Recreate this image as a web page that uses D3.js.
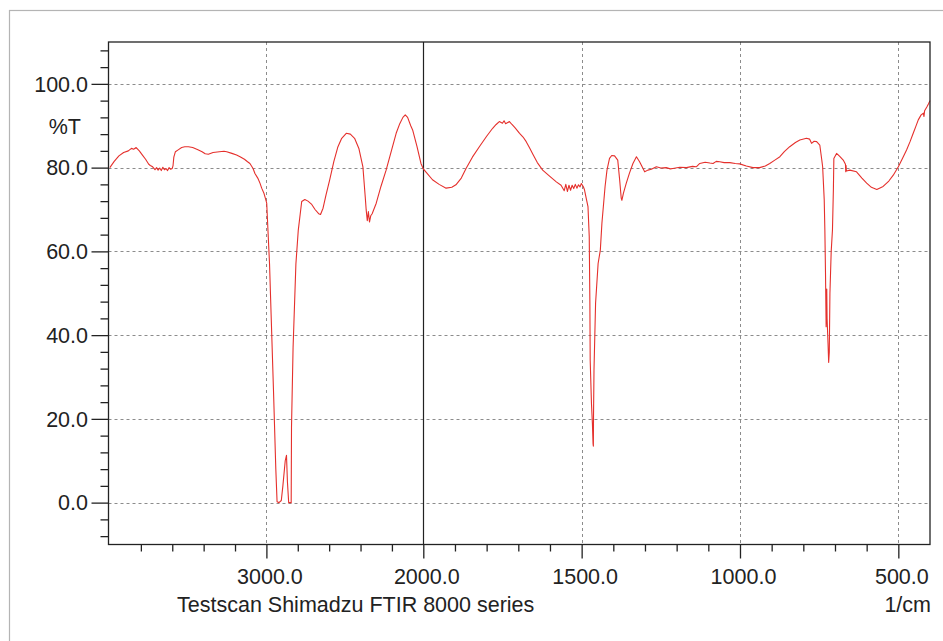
<!DOCTYPE html>
<html>
<head>
<meta charset="utf-8">
<script src="https://cdn.jsdelivr.net/npm/d3@7"></script>
<style>
  html, body { margin: 0; padding: 0; background: #fff; }
  svg { display: block; }
  text { font-family: "Liberation Sans", Arial, sans-serif; fill: #222; }
</style>
</head>
<body>
<svg id="chart" width="943" height="641"></svg>
<script>
// ---- Data ----
const wavenumbers = [
  3998,3970,3940,3910,3880,3860,3846,3830,3810,3790,3770,3750,3740,3725,3710,3700,3690,3680,3670,3660,
  3650,3640,3630,3620,3610,3600,3595,3590,3580,3560,3540,3520,3497,3470,3440,3410,3390,3370,3340,3300,
  3270,3253,3220,3190,3168,3140,3120,3105,3085,3073,3055,3041,3030,3015,3005,2998,2990,2980,2970,2955,
  2940,2932,2920,2905,2895,2880,2872,2866,2858,2842,2840,2830,2812,2797,2775,2755,2735,2713,2690,2667,
  2655,2639,2620,2597,2570,2544,2520,2491,2465,2438,2410,2385,2370,2364,2357,2350,2343,2335,2326,2300,
  2270,2237,2200,2173,2150,2130,2115,2100,2080,2068,2040,2015,2000,
  1990,1971,1950,1928,1910,1897,1880,1865,1845,1823,1800,1781,1770,1760,1750,1745,1740,1728,1720,1710,
  1696,1685,1675,1665,1654,1640,1623,1605,1580,1565,1555,1550,1545,1540,1535,1530,1525,1520,1515,1510,
  1505,1501,1495,1491,1485,1480,1476,1474,1473,1469,1466,1464,1463,1462.5,1461,1456,1448,1441,1436,1426,
  1420,1412,1405,1396,1386,1380,1375,1373,1368,1359,1349,1338,1327,1317,1301,1291,1280,1264,1250,1233,
  1220,1212,1190,1169,1150,1138,1127,1110,1095,1085,1075,1064,1050,1032,1015,1001,980,959,938,920,
  906,890,874,860,843,825,811,790,780,774,766,758,748,742,739,734,732,730,728,727,
  726,725,722,720,718,716,712,708,705,703.6,695,685,674,667,666,665,664,653,632,615,
  600,585,568,548,530,516,500,487,474,463,453,445,437,428,421,419,417,410,405,400
];
const transmittance = [
  80.0,81.5,82.8,83.6,84.0,84.6,84.4,84.8,84.0,83.0,82.0,80.8,80.5,80.2,79.5,80.0,79.4,79.9,79.3,80.1,
  79.5,79.8,79.3,80.0,79.6,79.8,80.5,82.5,83.8,84.3,84.8,85.0,85.0,84.8,84.3,83.8,83.3,83.2,83.6,83.8,
  83.9,83.8,83.4,83.0,82.6,82.0,81.4,81.0,79.8,78.6,77.5,76.3,75.1,73.8,72.5,71.5,65.0,57.0,45.0,27.0,
  8.0,0.2,0.0,0.5,4.0,10.0,11.3,5.0,0.0,0.0,18.0,37.0,57.0,65.0,71.9,72.4,72.0,71.3,70.0,69.0,
  68.8,70.3,73.5,77.0,81.5,85.0,87.0,88.2,88.0,87.0,84.5,80.2,73.0,69.9,67.3,69.5,67.0,68.5,69.0,71.5,
  75.5,79.4,84.5,88.2,90.5,92.0,92.6,92.0,90.0,89.0,85.0,81.0,79.7,
  78.8,77.1,76.0,75.1,75.3,75.9,77.5,79.8,82.5,85.0,87.5,89.4,90.3,91.0,90.6,91.2,90.5,91.0,90.3,89.5,
  88.2,87.3,86.2,84.8,83.2,81.2,79.4,78.2,76.6,75.8,74.5,76.0,74.3,75.8,74.6,75.8,75.0,76.0,75.1,75.9,
  75.4,76.2,75.5,74.7,72.5,70.7,63.5,47.6,34.0,23.7,18.9,14.1,13.5,20.5,31.6,47.6,57.1,60.3,66.7,75.5,
  79.4,82.2,82.9,82.8,81.8,77.1,72.7,72.2,73.9,76.3,78.7,81.0,82.6,81.4,79.0,79.4,79.6,80.2,79.9,80.0,
  79.7,79.8,80.1,80.0,80.3,80.2,81.0,81.3,81.1,81.0,81.5,81.4,81.2,81.2,81.0,80.9,80.4,80.0,80.0,80.4,
  81.0,81.8,82.6,83.8,85.0,86.0,86.6,87.0,86.8,85.8,86.3,86.2,85.4,82.0,80.2,72.3,65.1,55.0,42.0,48.0,
  51.0,44.0,38.0,33.5,36.0,50.0,60.0,65.1,75.0,82.2,83.4,82.7,81.8,80.8,79.0,80.5,79.2,79.4,79.0,77.5,
  76.3,75.3,74.8,75.5,76.8,78.2,80.2,82.2,84.2,86.2,88.2,89.8,91.4,92.6,93.0,92.2,93.6,94.5,95.2,96.0
];
const yTickLabels = [0, 20, 40, 60, 80, 100];
const xTickLabels = [3000, 2000, 1500, 1000, 500];
const yMinorTicks = [-8,-4,4,8,12,16,24,28,32,36,44,48,52,56,64,68,72,76,84,88,92,96,104,108];
const xMinorTicks = [3800,3600,3400,3200,2800,2600,2400,2200,1900,1800,1700,1600,1400,1300,1200,1100,900,800,700,600];
const yAxisTitle = "%T";
const xAxisUnit = "1/cm";
const caption = "Testscan Shimadzu FTIR 8000 series";

// ---- Layout ----
const svg = d3.select("#chart");
const L = 108.5, R = 930, T = 42, B = 544.5;
const FS = 21.5;

// Piecewise x scale: 4000-2000 compressed, 2000-400 expanded
const x = d3.scaleLinear().domain([4000, 2000, 400]).range([109.5, 423.3, 930]);
const y = d3.scaleLinear().domain([-10, 110]).range([B, T]);

// Outer frame
svg.append("rect")
  .attr("x", 9.5).attr("y", 10.5).attr("width", 945).attr("height", 650)
  .attr("fill", "none").attr("stroke", "#b4b4b4").attr("stroke-width", 1.2);

// Grid
const grid = svg.append("g");
grid.selectAll("line.hg").data(yTickLabels).join("line")
  .attr("x1", L).attr("x2", R)
  .attr("y1", d => Math.round(y(d)) + 0.5).attr("y2", d => Math.round(y(d)) + 0.5)
  .attr("stroke", "#8c8c8c").attr("stroke-width", 1).attr("stroke-dasharray", "3,3");
grid.selectAll("line.vg").data(xTickLabels.filter(d => d !== 2000)).join("line")
  .attr("x1", d => Math.round(x(d)) + 0.5).attr("x2", d => Math.round(x(d)) + 0.5)
  .attr("y1", T).attr("y2", B)
  .attr("stroke", "#8c8c8c").attr("stroke-width", 1).attr("stroke-dasharray", "3,3");

// Break line at 2000
svg.append("line")
  .attr("x1", Math.round(x(2000)) + 0.5).attr("x2", Math.round(x(2000)) + 0.5)
  .attr("y1", T).attr("y2", B)
  .attr("stroke", "#222").attr("stroke-width", 1.2);

// Spectrum
const pts = wavenumbers.map((w, i) => [w, transmittance[i]]);
const line = d3.line().x(d => x(d[0])).y(d => y(d[1]));
svg.append("path")
  .datum(pts)
  .attr("d", line)
  .attr("fill", "none")
  .attr("stroke", "#e5302c")
  .attr("stroke-width", 1.1)
  .attr("stroke-linejoin", "round");

// Plot frame
svg.append("rect")
  .attr("x", L).attr("y", T).attr("width", R - L).attr("height", B - T)
  .attr("fill", "none").attr("stroke", "#222").attr("stroke-width", 1.3);

// Y axis ticks
const yAxisMajor = d3.axisLeft(y).tickValues(yTickLabels).tickSize(17).tickFormat("");
const yAxisMinor = d3.axisLeft(y).tickValues(yMinorTicks).tickSize(8).tickFormat("");
[yAxisMajor, yAxisMinor].forEach(ax => {
  const g = svg.append("g").attr("transform", `translate(${L},0)`).call(ax);
  g.select(".domain").remove();
  g.selectAll("line").attr("stroke", "#222").attr("stroke-width", 1.3);
});
svg.append("g").selectAll("text").data(yTickLabels).join("text")
  .attr("x", 88).attr("y", d => y(d) + 7.7)
  .attr("text-anchor", "end").attr("font-size", FS)
  .text(d => d3.format(".1f")(d));
svg.append("text").attr("x", 81).attr("y", 133.5)
  .attr("text-anchor", "end").attr("font-size", FS).text(yAxisTitle);

// X axis ticks
const xAxisMajor = d3.axisBottom(x).tickValues(xTickLabels).tickSize(14).tickFormat("");
const xAxisMinor = d3.axisBottom(x).tickValues(xMinorTicks).tickSize(7).tickFormat("");
[xAxisMajor, xAxisMinor].forEach(ax => {
  const g = svg.append("g").attr("transform", `translate(0,${B})`).call(ax);
  g.select(".domain").remove();
  g.selectAll("line").attr("stroke", "#222").attr("stroke-width", 1.3);
});
svg.append("g").selectAll("text").data(xTickLabels).join("text")
  .attr("x", d => x(d) + 3.5).attr("y", 584)
  .attr("text-anchor", "middle").attr("font-size", FS)
  .text(d => d3.format(".1f")(d));

svg.append("text").attr("x", 177).attr("y", 612)
  .attr("font-size", FS).text(caption);
svg.append("text").attr("x", 931).attr("y", 612)
  .attr("text-anchor", "end").attr("font-size", FS).text(xAxisUnit);
</script>
</body>
</html>
